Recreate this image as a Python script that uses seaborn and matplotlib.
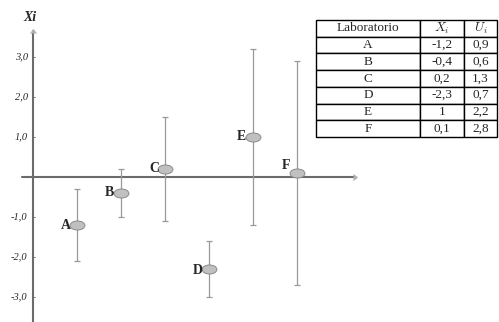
import matplotlib
matplotlib.use("Agg")
import matplotlib.pyplot as plt
import matplotlib.path as mpath
import seaborn as sns
import pandas as pd
import numpy as np

# Data
labs = ['A', 'B', 'C', 'D', 'E', 'F']
xi = [-1.2, -0.4, 0.2, -2.3, 1.0, 0.1]
ui = [0.9, 0.6, 1.3, 0.7, 2.2, 2.8]
xi_txt = ['-1,2', '-0,4', '0,2', '-2,3', '1', '0,1']
ui_txt = ['0,9', '0,6', '1,3', '0,7', '2,2', '2,8']
yticks = [3, 2, 1, -1, -2, -3]
ytick_labels = ['3,0', '2,0', '1,0', '-1,0', '-2,0', '-3,0']

df = pd.DataFrame({'lab': labs, 'pos': np.arange(1, len(labs) + 1), 'xi': xi, 'ui': ui})

sns.set_style('white')
plt.rcParams['font.family'] = ['Liberation Serif', 'DejaVu Serif']
plt.rcParams['mathtext.fontset'] = 'cm'

fig = plt.figure(figsize=(4.99, 3.22), dpi=100)
ax = fig.add_axes([0, 0, 1, 1])
ax.set_xlim(-0.75, 10.59)
ax.set_ylim(-3.625, 4.425)

axis_col = '#6b6b6b'
# axes through origin
ax.plot([-0.25, 7.3], [0, 0], color=axis_col, lw=1.5, zorder=1)
ax.plot([0, 0], [-3.625, 3.65], color=axis_col, lw=1.5, zorder=1)
ax.plot([7.36], [0], marker=5, color='#b0b0b0', ms=4, mew=0.6, zorder=1)
ax.plot([0], [3.7], marker=6, color='#b0b0b0', ms=4, mew=0.6, zorder=1)
for s in ax.spines.values():
    s.set_visible(False)
ax.set_xticks([])
ax.set_yticks([])

for v, t in zip(yticks, ytick_labels):
    ax.plot([0, 0.05], [v, v], color=axis_col, lw=0.6)
    ax.text(-0.12, v, t, ha='right', va='center', fontsize=7.5, style='italic')
ax.text(-0.07, 3.98, 'Xi', ha='center', va='center', fontsize=10, style='italic', fontweight='bold')

# error bars
ax.errorbar(df['pos'], df['xi'], yerr=df['ui'], fmt='none', ecolor='#999999',
            elinewidth=0.9, capsize=2.5, capthick=0.9, zorder=2)

# ellipse markers
circ = mpath.Path.unit_circle()
ell = mpath.Path(circ.vertices * np.array([1.65, 1.0]), circ.codes)
sns.scatterplot(data=df, x='pos', y='xi', marker=ell, s=115, color='#c0c0c0',
                edgecolor='#8a8a8a', linewidth=0.7, zorder=3, ax=ax, legend=False)

offsets = {'A': (-0.25, -0.02), 'B': (-0.26, 0.02), 'C': (-0.25, 0.02),
           'D': (-0.25, -0.03), 'E': (-0.27, 0.0), 'F': (-0.25, 0.18)}
for lab, p, y in zip(df['lab'], df['pos'], df['xi']):
    dx, dy = offsets[lab]
    ax.text(p + dx, y + dy, lab, ha='center', va='center', fontsize=10, fontweight='bold')
ax.set_xlabel('')
ax.set_ylabel('')

# table
cells = [[l, a, b] for l, a, b in zip(labs, xi_txt, ui_txt)]
tab = ax.table(cellText=cells, colLabels=['Laboratorio', '$X_i$', '$U_i$'],
               cellLoc='center', colWidths=[104, 44, 33],
               bbox=[316 / 499, 1 - 137 / 322, (497 - 316) / 499, (137 - 20) / 322])
tab.auto_set_font_size(False)
tab.set_fontsize(9.5)
for (r, c), cell in tab.get_celld().items():
    cell.set_linewidth(1.0)
    cell.set_edgecolor('black')

fig.savefig('out.png', dpi=100)
